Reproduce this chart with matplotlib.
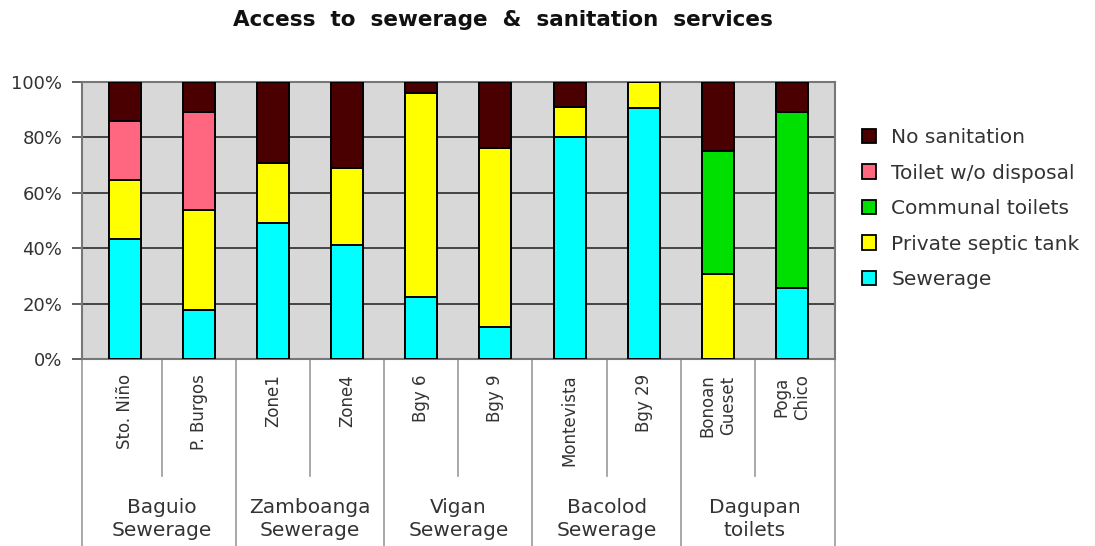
import matplotlib
matplotlib.use("Agg")
import matplotlib.pyplot as plt
import matplotlib.transforms as mtransforms
from matplotlib.patches import Patch
import numpy as np

plt.rcParams['font.family'] = ['DejaVu Sans']

title = "Access  to  sewerage  &  sanitation  services"
sites = ["Sto. Niño", "P. Burgos", "Zone1", "Zone4", "Bgy 6", "Bgy 9",
         "Montevista", "Bgy 29", "Bonoan\nGueset", "Poga\nChico"]
groups = ["Baguio\nSewerage", "Zamboanga\nSewerage", "Vigan\nSewerage",
          "Bacolod\nSewerage", "Dagupan\ntoilets"]

sewerage       = [43.2, 17.5, 49.0, 41.2, 22.2, 11.4, 80.2, 90.4, 0.0, 25.6]
septic_tank    = [21.4, 36.3, 21.6, 27.8, 73.6, 64.6, 10.8, 9.6, 30.7, 0.0]
communal       = [0.0, 0.0, 0.0, 0.0, 0.0, 0.0, 0.0, 0.0, 44.3, 63.6]
toilet_no_disp = [21.4, 35.4, 0.0, 0.0, 0.0, 0.0, 0.0, 0.0, 0.0, 0.0]
no_sanitation  = [14.0, 10.8, 29.4, 31.0, 4.2, 24.0, 9.0, 0.0, 25.0, 10.8]

series = [
    ("Sewerage", sewerage, "#00ffff"),
    ("Private septic tank", septic_tank, "#ffff00"),
    ("Communal toilets", communal, "#00e000"),
    ("Toilet w/o disposal", toilet_no_disp, "#ff6680"),
    ("No sanitation", no_sanitation, "#4a0000"),
]
yticks = [0, 20, 40, 60, 80, 100]
ytick_labels = ["0%", "20%", "40%", "60%", "80%", "100%"]

W, H = 1095, 546
fig = plt.figure(figsize=(W / 100, H / 100), dpi=100)
ax = fig.add_axes([81.7 / W, 1 - 359 / H, 753.3 / W, 277.3 / H])
ax.set_facecolor("#d8d8d8")

x = np.arange(len(sites))
bottom = np.zeros(len(sites))
for name, vals, col in series:
    v = np.array(vals)
    ax.bar(x, v, 0.43, bottom=bottom, color=col, edgecolor="black",
           linewidth=1.4, zorder=3)
    bottom += v

ax.set_xlim(-0.58, 9.58)
ax.set_ylim(0, 100)
ax.set_yticks(yticks)
ax.set_yticklabels(ytick_labels, fontsize=13, color="#333333")
ax.tick_params(axis="y", length=7, width=1.2, color="#444444", pad=7)
ax.yaxis.grid(True, color="#444444", linewidth=1.4, zorder=1)
ax.set_axisbelow(True)

ax.set_xticks(x)
ax.set_xticklabels(sites, rotation=90, fontsize=12, color="#333333",
                   va="top", ha="center", multialignment="center")
ax.tick_params(axis="x", length=0, pad=11)

for s in ax.spines.values():
    s.set_color("#777777")
    s.set_linewidth(1.5)

# hierarchical separators below axis
trans = mtransforms.blended_transform_factory(ax.transData, ax.transAxes)
short_y = (359 - 476) / 277.3
long_y = (359 - 546) / 277.3
for i in range(len(sites) + 1):
    xp = i - 0.5
    if i == 0:
        xp = -0.58
    if i == len(sites):
        xp = 9.58
    y_end = long_y if i % 2 == 0 else short_y
    ax.plot([xp, xp], [0, y_end], transform=trans, color="#999999",
            linewidth=1.2, clip_on=False, zorder=0)

group_y = (359 - 519) / 277.3
for g, label in enumerate(groups):
    ax.text(2 * g + 0.5, group_y, label, transform=trans, ha="center",
            va="center", fontsize=14.5, color="#333333", linespacing=1.25,
            multialignment="center")

fig.text(503 / W, 1 - 20 / H, title, ha="center", va="center",
         fontsize=15.5, fontweight="bold", color="#111111")

handles = [Patch(facecolor=col, edgecolor="black", linewidth=1.3, label=name)
           for name, vals, col in series[::-1]]
fig.legend(handles=handles, loc="upper left",
           bbox_to_anchor=(862 / W, 1 - 128 / H), frameon=False,
           fontsize=14.5, handlelength=0.7, handleheight=0.7,
           handletextpad=0.75, labelspacing=0.82, borderpad=0,
           borderaxespad=0, labelcolor="#333333")

fig.savefig("out.png", dpi=100)
